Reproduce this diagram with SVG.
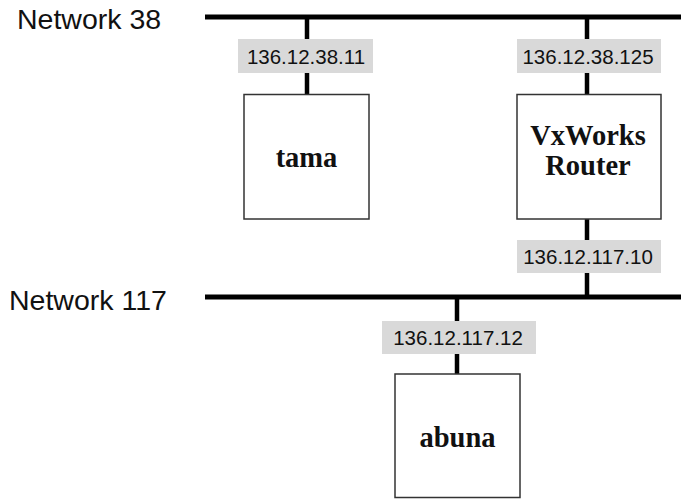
<svg xmlns="http://www.w3.org/2000/svg" width="681" height="499" viewBox="0 0 681 499">
<style>
.net{font-family:"Liberation Sans",Arial,sans-serif;font-size:28.5px;fill:#111}
.lbl rect{fill:#d9d9d9}
.lbl text{font-family:"Liberation Sans",Arial,sans-serif;font-size:20.5px;fill:#111;text-anchor:middle}
.node rect{fill:#fff;stroke:#333;stroke-width:1.5}
.node text{font-family:"Liberation Serif","Times New Roman",serif;font-weight:bold;font-size:28.5px;fill:#111;text-anchor:middle}
.bus{stroke:#000;stroke-width:5;fill:none}
.drop{stroke:#000;stroke-width:4.5;fill:none}
</style>
<rect width="681" height="499" fill="#fff"/>
<text class="net" x="17" y="29">Network 38</text>
<text class="net" x="9" y="310">Network 117</text>
<g id="connectors">
<line class="bus" x1="205" y1="17" x2="681" y2="17"/>
<line class="bus" x1="205" y1="297" x2="681" y2="297"/>
<line class="drop" x1="307" y1="17" x2="307" y2="94"/>
<line class="drop" x1="587" y1="17" x2="587" y2="94"/>
<line class="drop" x1="587" y1="219" x2="587" y2="297"/>
<line class="drop" x1="457" y1="297" x2="457" y2="374"/>
</g>
<g id="lbl-tama" class="lbl"><rect x="238" y="39" width="135" height="34"/><text x="306" y="64">136.12.38.11</text></g>
<g id="lbl-router38" class="lbl"><rect x="517" y="39" width="144" height="34"/><text x="588" y="64">136.12.38.125</text></g>
<g id="lbl-router117" class="lbl"><rect x="517" y="240" width="144" height="33"/><text x="588" y="264">136.12.117.10</text></g>
<g id="lbl-abuna" class="lbl"><rect x="382" y="321" width="154" height="33"/><text x="458" y="345">136.12.117.12</text></g>
<g id="tama" class="node"><rect x="244" y="94.5" width="125" height="124.5"/><text x="306.5" y="167">tama</text></g>
<g id="router" class="node"><rect x="517" y="94.5" width="144" height="124.5"/><text x="588" y="145">VxWorks</text><text x="588" y="175">Router</text></g>
<g id="abuna" class="node"><rect x="395" y="374" width="125" height="123.5"/><text x="457.5" y="447">abuna</text></g>
</svg>
